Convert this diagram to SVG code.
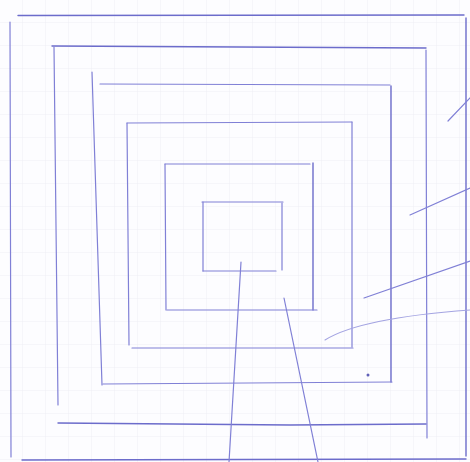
<svg xmlns="http://www.w3.org/2000/svg" width="470" height="462" viewBox="0 0 470 462">
  <defs>
    <pattern id="grid" width="23" height="23" patternUnits="userSpaceOnUse">
      <path d="M23 0V23M0 23H23" fill="none" stroke="#efeff5" stroke-width="1"/>
    </pattern>
    <style>
      .ln { fill: none; stroke: #8080d6; stroke-width: 1.2; stroke-linecap: round; }
      .dk { stroke: #6c6ccb; stroke-width: 1.4; }
      .lt { stroke: #a4a4e2; stroke-width: 1.1; }
    </style>
  </defs>
  <rect width="470" height="462" fill="#fdfdff"/>
  <rect width="470" height="462" fill="url(#grid)"/>

  <g id="square1">
    <path class="ln dk" d="M18 15.5 L464 15"/>
    <path class="ln" d="M10 22 L11 457"/>
    <path class="ln dk" d="M466 18 L466 456"/>
    <path class="ln dk" d="M22 460 L466 459"/>
  </g>
  <g id="square2">
    <path class="ln dk" d="M52 46 L426 48"/>
    <path class="ln" d="M54 47 L58 405"/>
    <path class="ln" d="M426 50 L427 438"/>
    <path class="ln dk" d="M58 423 L290 425 L426 424"/>
  </g>
  <g id="square3">
    <path class="ln" d="M100 84 L390 85"/>
    <path class="ln" d="M92 72 L102 385"/>
    <path class="ln dk" d="M391 86 L391 382"/>
    <path class="ln" d="M103 384 L392 382"/>
  </g>
  <g id="square4">
    <path class="ln" d="M127 123 L352 122"/>
    <path class="ln" d="M127 123 L129 345"/>
    <path class="ln" d="M352 122 L352 347"/>
    <path class="ln" d="M132 348 L353 348"/>
  </g>
  <g id="square5">
    <path class="ln" d="M165 164 L310 164"/>
    <path class="ln" d="M165 164 L166 310"/>
    <path class="ln dk" d="M313 163 L313 310"/>
    <path class="ln" d="M167 310 L317 310"/>
  </g>
  <g id="square6">
    <path class="ln" d="M202 202 L283 202"/>
    <path class="ln" d="M203 202 L203 271"/>
    <path class="ln" d="M282 203 L282 270"/>
    <path class="ln" d="M203 271 L276 271"/>
  </g>
  <g id="dot">
    <circle cx="368" cy="375" r="1.5" fill="#6060b8"/>
  </g>
  <g id="connectors">
    <path class="ln" d="M241 262 L229 462"/>
    <path class="ln" d="M284 298 L318 462"/>
    <path class="ln" d="M448 121 L470 98"/>
    <path class="ln" d="M410 215 L470 188"/>
    <path class="ln" d="M364 298 L470 261"/>
    <path class="ln lt" d="M325 340 Q360 318 470 310"/>
  </g>
</svg>
